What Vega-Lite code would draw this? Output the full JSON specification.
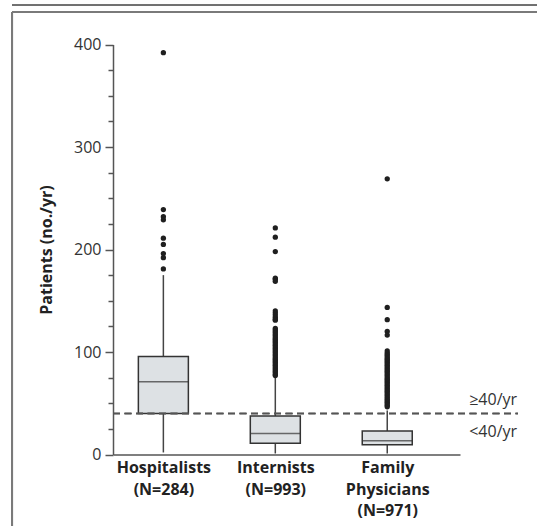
{
  "$schema": "https://vega.github.io/schema/vega-lite/v6.json",
  "width": 525,
  "height": 514,
  "autosize": "none",
  "padding": {"left": 12, "top": 12, "right": 0, "bottom": 0},
  "background": "white",
  "config": {"view": {"stroke": null}, "font": "Open Sans", "axis": {"grid": false}},
  "datasets": {
    "stats": [
      {"group": "Hospitalists", "pos": 1, "lo": 2, "q1": 40, "median": 71, "q3": 95.5, "hi": 175},
      {"group": "Internists", "pos": 2, "lo": 1, "q1": 11, "median": 20.5, "q3": 37.5, "hi": 75},
      {"group": "Family Physicians", "pos": 3, "lo": 1, "q1": 9.5, "median": 13.5, "q3": 23, "hi": 43}
    ],
    "outliers": [
      {"group": "Hospitalists", "pos": 1, "patients": 392},
      {"group": "Hospitalists", "pos": 1, "patients": 239},
      {"group": "Hospitalists", "pos": 1, "patients": 232},
      {"group": "Hospitalists", "pos": 1, "patients": 229},
      {"group": "Hospitalists", "pos": 1, "patients": 211},
      {"group": "Hospitalists", "pos": 1, "patients": 205},
      {"group": "Hospitalists", "pos": 1, "patients": 196},
      {"group": "Hospitalists", "pos": 1, "patients": 192},
      {"group": "Hospitalists", "pos": 1, "patients": 181},
      {"group": "Internists", "pos": 2, "patients": 221},
      {"group": "Internists", "pos": 2, "patients": 212},
      {"group": "Internists", "pos": 2, "patients": 198},
      {"group": "Internists", "pos": 2, "patients": 172},
      {"group": "Internists", "pos": 2, "patients": 171},
      {"group": "Internists", "pos": 2, "patients": 169},
      {"group": "Internists", "pos": 2, "patients": 140},
      {"group": "Internists", "pos": 2, "patients": 138},
      {"group": "Internists", "pos": 2, "patients": 136},
      {"group": "Internists", "pos": 2, "patients": 134},
      {"group": "Internists", "pos": 2, "patients": 132},
      {"group": "Internists", "pos": 2, "patients": 131},
      {"group": "Internists", "pos": 2, "patients": 123},
      {"group": "Internists", "pos": 2, "patients": 121.5},
      {"group": "Internists", "pos": 2, "patients": 120},
      {"group": "Internists", "pos": 2, "patients": 118.5},
      {"group": "Internists", "pos": 2, "patients": 117},
      {"group": "Internists", "pos": 2, "patients": 115.5},
      {"group": "Internists", "pos": 2, "patients": 114},
      {"group": "Internists", "pos": 2, "patients": 112.5},
      {"group": "Internists", "pos": 2, "patients": 111},
      {"group": "Internists", "pos": 2, "patients": 109.5},
      {"group": "Internists", "pos": 2, "patients": 108},
      {"group": "Internists", "pos": 2, "patients": 106.5},
      {"group": "Internists", "pos": 2, "patients": 105},
      {"group": "Internists", "pos": 2, "patients": 103.5},
      {"group": "Internists", "pos": 2, "patients": 102},
      {"group": "Internists", "pos": 2, "patients": 100.5},
      {"group": "Internists", "pos": 2, "patients": 99},
      {"group": "Internists", "pos": 2, "patients": 97.5},
      {"group": "Internists", "pos": 2, "patients": 96},
      {"group": "Internists", "pos": 2, "patients": 94.5},
      {"group": "Internists", "pos": 2, "patients": 93},
      {"group": "Internists", "pos": 2, "patients": 91.5},
      {"group": "Internists", "pos": 2, "patients": 90},
      {"group": "Internists", "pos": 2, "patients": 88.5},
      {"group": "Internists", "pos": 2, "patients": 87},
      {"group": "Internists", "pos": 2, "patients": 85.5},
      {"group": "Internists", "pos": 2, "patients": 84},
      {"group": "Internists", "pos": 2, "patients": 82.5},
      {"group": "Internists", "pos": 2, "patients": 81},
      {"group": "Internists", "pos": 2, "patients": 79.5},
      {"group": "Internists", "pos": 2, "patients": 78},
      {"group": "Internists", "pos": 2, "patients": 77},
      {"group": "Family Physicians", "pos": 3, "patients": 269},
      {"group": "Family Physicians", "pos": 3, "patients": 143.5},
      {"group": "Family Physicians", "pos": 3, "patients": 131.5},
      {"group": "Family Physicians", "pos": 3, "patients": 120},
      {"group": "Family Physicians", "pos": 3, "patients": 116.5},
      {"group": "Family Physicians", "pos": 3, "patients": 101},
      {"group": "Family Physicians", "pos": 3, "patients": 99},
      {"group": "Family Physicians", "pos": 3, "patients": 97.5},
      {"group": "Family Physicians", "pos": 3, "patients": 96},
      {"group": "Family Physicians", "pos": 3, "patients": 94.5},
      {"group": "Family Physicians", "pos": 3, "patients": 93},
      {"group": "Family Physicians", "pos": 3, "patients": 91.5},
      {"group": "Family Physicians", "pos": 3, "patients": 90},
      {"group": "Family Physicians", "pos": 3, "patients": 88.5},
      {"group": "Family Physicians", "pos": 3, "patients": 87},
      {"group": "Family Physicians", "pos": 3, "patients": 85.5},
      {"group": "Family Physicians", "pos": 3, "patients": 84},
      {"group": "Family Physicians", "pos": 3, "patients": 82.5},
      {"group": "Family Physicians", "pos": 3, "patients": 81},
      {"group": "Family Physicians", "pos": 3, "patients": 79.5},
      {"group": "Family Physicians", "pos": 3, "patients": 78},
      {"group": "Family Physicians", "pos": 3, "patients": 76.5},
      {"group": "Family Physicians", "pos": 3, "patients": 75},
      {"group": "Family Physicians", "pos": 3, "patients": 73.5},
      {"group": "Family Physicians", "pos": 3, "patients": 72},
      {"group": "Family Physicians", "pos": 3, "patients": 70.5},
      {"group": "Family Physicians", "pos": 3, "patients": 69},
      {"group": "Family Physicians", "pos": 3, "patients": 67.5},
      {"group": "Family Physicians", "pos": 3, "patients": 66},
      {"group": "Family Physicians", "pos": 3, "patients": 64.5},
      {"group": "Family Physicians", "pos": 3, "patients": 63},
      {"group": "Family Physicians", "pos": 3, "patients": 61.5},
      {"group": "Family Physicians", "pos": 3, "patients": 60},
      {"group": "Family Physicians", "pos": 3, "patients": 58.5},
      {"group": "Family Physicians", "pos": 3, "patients": 57},
      {"group": "Family Physicians", "pos": 3, "patients": 55.5},
      {"group": "Family Physicians", "pos": 3, "patients": 54},
      {"group": "Family Physicians", "pos": 3, "patients": 52.5},
      {"group": "Family Physicians", "pos": 3, "patients": 51},
      {"group": "Family Physicians", "pos": 3, "patients": 49.5},
      {"group": "Family Physicians", "pos": 3, "patients": 48},
      {"group": "Family Physicians", "pos": 3, "patients": 46.5}
    ]
  },
  "layer": [
    {
      "data": {"name": "stats"},
      "mark": {"type": "rule", "stroke": "#707070", "strokeWidth": 1.8},
      "encoding": {"y": {"datum": 438.5, "type": "quantitative", "axis": null}}
    },
    {
      "data": {"name": "stats"},
      "mark": {"type": "rule", "stroke": "#7a7a7a", "strokeWidth": 2},
      "encoding": {"y": {"datum": 431.7, "type": "quantitative", "axis": null}}
    },
    {
      "data": {"name": "stats"},
      "mark": {"type": "rule", "stroke": "#7a7a7a", "strokeWidth": 2},
      "encoding": {"x": {"datum": -0.352, "type": "quantitative"}}
    },
    {
      "data": {"name": "stats"},
      "mark": {"type": "rule", "stroke": "#444", "strokeWidth": 1.5},
      "encoding": {
        "x": {
          "field": "pos", "type": "quantitative",
          "scale": {"domain": [0.55, 3.65], "range": [101, 448], "nice": false, "zero": false, "padding": 0},
          "axis": {
            "title": null, "values": [1, 2, 3], "ticks": false, "offset": -71.5,
            "domainColor": "#555", "domainWidth": 1.5,
            "labelExpr": "datum.value == 1 ? ['Hospitalists', '(N=284)'] : datum.value == 2 ? ['Internists', '(N=993)'] : ['Family', 'Physicians', '(N=971)']",
            "labelFontSize": 16, "labelFontWeight": "bold", "labelColor": "#222",
            "labelLineHeight": 21.5, "labelBaseline": "top", "labelPadding": 5,
            "labelAlign": "center", "labelOverlap": false, "labelFlush": false
          }
        },
        "y": {
          "field": "lo", "type": "quantitative",
          "scale": {"domain": [0, 400], "range": [442.5, 32.5], "nice": false, "zero": false, "padding": 0},
          "axis": {
            "orient": "left", "offset": -101, "values": [0, 100, 200, 300, 400],
            "tickSize": 8, "tickWidth": 1.5, "tickColor": "#555",
            "domainColor": "#555", "domainWidth": 1.5,
            "labelFontSize": 16, "labelColor": "#333", "labelPadding": 4,
            "title": "Patients (no./yr)", "titleFontSize": 16, "titleFontWeight": "bold",
            "titleColor": "#222", "titlePadding": 19
          }
        },
        "y2": {"field": "hi"}
      }
    },
    {
      "data": {"name": "stats"},
      "mark": {"type": "bar", "width": 50, "fill": "#dde1e4", "stroke": "#333", "strokeWidth": 1.5},
      "encoding": {
        "x": {"field": "pos", "type": "quantitative"},
        "y": {
          "field": "q1", "type": "quantitative",
          "axis": {
            "orient": "left", "offset": -101,
            "values": [25, 50, 75, 125, 150, 175, 225, 250, 275, 325, 350, 375],
            "tickSize": 5, "tickWidth": 1.5, "tickColor": "#555",
            "labels": false, "domain": false, "title": null
          }
        },
        "y2": {"field": "q3"}
      }
    },
    {
      "data": {"name": "stats"},
      "mark": {"type": "tick", "orient": "horizontal", "size": 50, "thickness": 1.5, "color": "#333"},
      "encoding": {
        "x": {"field": "pos", "type": "quantitative"},
        "y": {"field": "median", "type": "quantitative", "axis": null}
      }
    },
    {
      "data": {"name": "outliers"},
      "mark": {"type": "circle", "size": 28, "color": "#1f1f1f", "opacity": 1},
      "encoding": {
        "x": {"field": "pos", "type": "quantitative"},
        "y": {"field": "patients", "type": "quantitative", "axis": null}
      }
    },
    {
      "data": {"name": "stats"},
      "mark": {"type": "rule", "stroke": "#555", "strokeWidth": 1.4, "strokeDash": [7, 4.5]},
      "encoding": {
        "x": {"datum": 0.55, "type": "quantitative"},
        "x2": {"datum": 4.168},
        "y": {"datum": 40, "type": "quantitative", "axis": null}
      }
    },
    {
      "data": {"values": [{"label": "≥40/yr"}]},
      "mark": {"type": "text", "align": "right", "baseline": "alphabetic", "dy": -8.5, "fontSize": 16, "color": "#333"},
      "encoding": {
        "x": {"datum": 4.16, "type": "quantitative"},
        "y": {"datum": 40, "type": "quantitative", "axis": null},
        "text": {"field": "label"}
      }
    },
    {
      "data": {"values": [{"label": "<40/yr"}]},
      "mark": {"type": "text", "align": "right", "baseline": "alphabetic", "dy": 23, "fontSize": 16, "color": "#333"},
      "encoding": {
        "x": {"datum": 4.16, "type": "quantitative"},
        "y": {"datum": 40, "type": "quantitative", "axis": null},
        "text": {"field": "label"}
      }
    }
  ],
  "resolve": {"axis": {"y": "independent"}}
}
